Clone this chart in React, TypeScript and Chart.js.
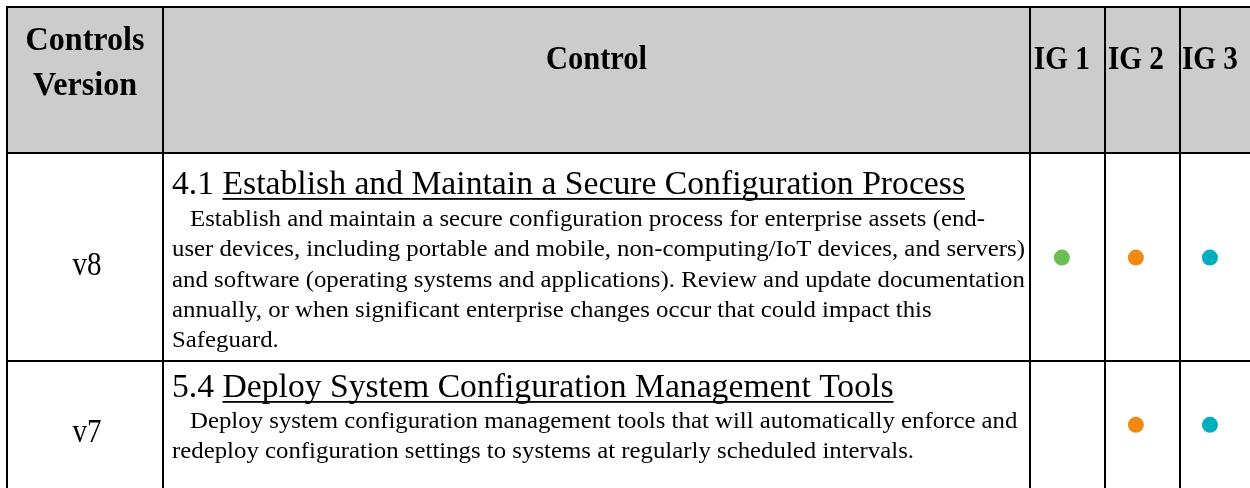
import React, { useEffect, useRef } from "react";
import { Chart, registerables } from "chart.js";

Chart.register(...registerables);

// ---------- data ----------
const HEADER_VERSION = ["Controls", "Version"];
const HEADER_CONTROL = "Control";
const IG_LABELS = ["IG 1", "IG 2", "IG 3"];
const VERSIONS = ["v8", "v7"];
const CONTROL_NUMBERS = ["4.1", "5.4"];
const CONTROL_TITLES = [
  "Establish and Maintain a Secure Configuration Process",
  "Deploy System Configuration Management Tools",
];
const DESCRIPTION_V8 = [
  "Establish and maintain a secure configuration process for enterprise assets (end-",
  "user devices, including portable and mobile, non-computing/IoT devices, and servers)",
  "and software (operating systems and applications). Review and update documentation",
  "annually, or when significant enterprise changes occur that could impact this",
  "Safeguard.",
];
const DESCRIPTION_V7 = [
  "Deploy system configuration management tools that will automatically enforce and",
  "redeploy configuration settings to systems at regularly scheduled intervals.",
];
const IG1_APPLIES = [true, false];
const IG2_APPLIES = [true, true];
const IG3_APPLIES = [true, true];
const IG_COLORS = ["#6dbd55", "#f28a12", "#00afbf"];

// ---------- layout ----------
const W = 1250;
const H = 488;
const COL_EDGES = [7, 163, 1030, 1105, 1180, 1255];
const TABLE_TOP = 7;
const ROW_EDGES = [153, 361, 560];
const ROW_ANCHOR_PX = [258, 431];
const HEADER_GRAY = "#cccccc";
const FAMILY = '"Liberation Serif", "DejaVu Serif", serif';
const HEADER_FONT = `bold 34px ${FAMILY}`;
const TITLE_FONT = `33.5px ${FAMILY}`;
const DESC_FONT = `23px ${FAMILY}`;
const VERSION_FONT = `33px ${FAMILY}`;
const TEXT_LEFT = 172;
const FIRST_INDENT = 18;
const HEADER_BASELINES = [50, 95];
const HEADER_MID_BASELINE = 69;
const TITLE_BASELINES = [194, 397];
const DESC_FIRST_BASELINES = [226, 428];
const DESC_STEP = 30.3;

const DESCRIPTIONS = [DESCRIPTION_V8, DESCRIPTION_V7];
const IG_APPLIES = [IG1_APPLIES, IG2_APPLIES, IG3_APPLIES];

function drawText(
  ctx: CanvasRenderingContext2D,
  text: string,
  x: number,
  y: number,
  sx: number,
  align: CanvasTextAlign = "left"
) {
  ctx.save();
  ctx.translate(x, y);
  ctx.scale(sx, 1);
  ctx.textAlign = align;
  ctx.textBaseline = "alphabetic";
  ctx.fillText(text, 0, 0);
  ctx.restore();
}

function fit(ctx: CanvasRenderingContext2D, font: string, text: string, target: number) {
  ctx.font = font;
  return target / ctx.measureText(text).width;
}

const tablePlugin = {
  id: "controlsTable",
  beforeDatasetsDraw(chart: any) {
    const ctx: CanvasRenderingContext2D = chart.ctx;
    const xs = chart.scales.x;
    const ys = chart.scales.y;
    ctx.save();
    // header background
    ctx.fillStyle = HEADER_GRAY;
    ctx.fillRect(COL_EDGES[0], TABLE_TOP, COL_EDGES[5] - COL_EDGES[0], ROW_EDGES[0] - TABLE_TOP);

    // grid
    ctx.strokeStyle = "#000";
    ctx.lineWidth = 2;
    ctx.beginPath();
    [TABLE_TOP, ROW_EDGES[0], ROW_EDGES[1]].forEach((y) => {
      ctx.moveTo(COL_EDGES[0] - 1, y);
      ctx.lineTo(COL_EDGES[5] + 1, y);
    });
    COL_EDGES.forEach((x) => {
      ctx.moveTo(x, TABLE_TOP - 1);
      ctx.lineTo(x, ROW_EDGES[2]);
    });
    ctx.stroke();

    ctx.fillStyle = "#000";
    // header texts
    const sxH = fit(ctx, HEADER_FONT, HEADER_VERSION[0], 119);
    const c0 = (COL_EDGES[0] + COL_EDGES[1]) / 2;
    drawText(ctx, HEADER_VERSION[0], c0, HEADER_BASELINES[0], sxH, "center");
    drawText(ctx, HEADER_VERSION[1], c0, HEADER_BASELINES[1], sxH, "center");
    drawText(ctx, HEADER_CONTROL, (COL_EDGES[1] + COL_EDGES[2]) / 2, HEADER_MID_BASELINE, sxH * 0.95, "center");
    const sxIG = fit(ctx, HEADER_FONT, IG_LABELS[0], 56);
    IG_LABELS.forEach((lab, g) => {
      drawText(ctx, lab, xs.getPixelForValue(g), HEADER_MID_BASELINE, sxIG, "center");
    });

    // rows
    const sxT = fit(ctx, TITLE_FONT, CONTROL_NUMBERS[0] + " " + CONTROL_TITLES[0], 793);
    const sxD = fit(ctx, DESC_FONT, DESCRIPTION_V8[0], 795);
    VERSIONS.forEach((v, r) => {
      // version label, centred on the row's scale position
      ctx.font = VERSION_FONT;
      const cy = ys.getPixelForValue(r);
      drawText(ctx, v, c0 + 2, cy + 17, 0.88, "center");
      // title
      ctx.font = TITLE_FONT;
      const prefix = CONTROL_NUMBERS[r] + " ";
      const full = prefix + CONTROL_TITLES[r];
      const tb = TITLE_BASELINES[r];
      drawText(ctx, full, TEXT_LEFT, tb, sxT);
      const u0 = TEXT_LEFT + ctx.measureText(prefix).width * sxT;
      const u1 = TEXT_LEFT + ctx.measureText(full).width * sxT;
      ctx.fillRect(u0, tb + 4, u1 - u0, 1.8);
      // description
      ctx.font = DESC_FONT;
      DESCRIPTIONS[r].forEach((line, i) => {
        drawText(ctx, line, TEXT_LEFT + (i === 0 ? FIRST_INDENT : 0), DESC_FIRST_BASELINES[r] + i * DESC_STEP, sxD);
      });
    });
    ctx.restore();
  },
};

export default function App() {
  const ref = useRef<HTMLCanvasElement | null>(null);
  useEffect(() => {
    if (!ref.current) return;
    const xc0 = (COL_EDGES[2] + COL_EDGES[3]) / 2;
    const xc2 = (COL_EDGES[4] + COL_EDGES[5]) / 2;
    const xUnit = (xc2 - xc0) / 2;
    const xMin = -xc0 / xUnit;
    const yUnit = ROW_ANCHOR_PX[1] - ROW_ANCHOR_PX[0];
    const yMin = -ROW_ANCHOR_PX[0] / yUnit;

    const datasets = IG_LABELS.map((lab, g) => ({
      label: lab,
      data: VERSIONS.map((_, r) => (IG_APPLIES[g][r] ? { x: g, y: r } : null)).filter(Boolean) as any[],
      backgroundColor: IG_COLORS[g],
      borderColor: IG_COLORS[g],
      borderWidth: 0,
      pointRadius: 8,
      pointHoverRadius: 8,
      pointStyle: "circle",
    }));

    const chart = new Chart(ref.current, {
      type: "scatter",
      data: { datasets },
      options: {
        animation: false,
        responsive: false,
        devicePixelRatio: 1,
        events: [],
        layout: { padding: 0 },
        plugins: { legend: { display: false }, tooltip: { enabled: false }, title: { display: false } },
        scales: {
          x: { type: "linear", display: false, min: xMin, max: xMin + W / xUnit },
          y: { type: "linear", display: false, reverse: true, min: yMin, max: yMin + H / yUnit },
        },
      },
      plugins: [tablePlugin],
    });
    return () => chart.destroy();
  }, []);

  return (
    <div style={{ position: "fixed", left: 0, top: 0, width: W, height: H, background: "#fff" }}>
      <canvas ref={ref} width={W} height={H} style={{ display: "block", width: W, height: H }} />
    </div>
  );
}
